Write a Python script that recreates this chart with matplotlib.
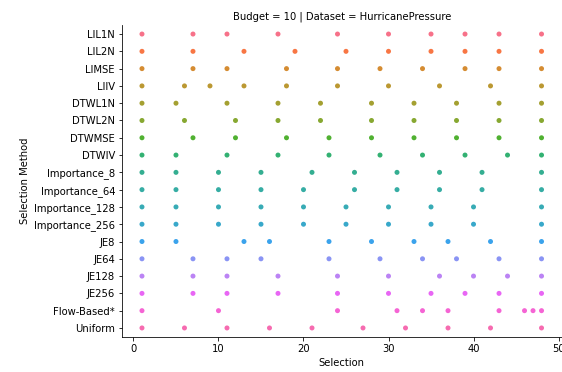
import pandas as pd
import numpy as np
import matplotlib
matplotlib.use('Agg')
import matplotlib.pyplot as plt
import seaborn as sns

methods = ["LIL1N", "LIL2N", "LIMSE", "LIIV", "DTWL1N", "DTWL2N", "DTWMSE", "DTWIV",
           "Importance_8", "Importance_64", "Importance_128", "Importance_256",
           "JE8", "JE64", "JE128", "JE256", "Flow-Based*", "Uniform"]

lil1n = [1, 7, 11, 17, 24, 30, 35, 39, 43, 48]
lil2n = [1, 7, 13, 19, 25, 30, 35, 39, 43, 48]
limse = [1, 7, 11, 18, 24, 29, 34, 39, 43, 48]
liiv = [1, 6, 9, 13, 18, 24, 30, 36, 42, 48]
dtwl1n = [1, 5, 11, 17, 22, 28, 33, 38, 43, 48]
dtwl2n = [1, 6, 12, 17, 22, 28, 33, 38, 43, 48]
dtwmse = [1, 7, 12, 18, 23, 28, 33, 38, 43, 48]
dtwiv = [1, 5, 11, 17, 23, 29, 34, 39, 44, 48]
imp_8 = [1, 5, 10, 15, 21, 26, 31, 36, 41, 48]
imp_64 = [1, 5, 10, 15, 20, 26, 31, 36, 41, 48]
imp_128 = [1, 5, 10, 15, 20, 25, 30, 35, 40, 48]
imp_256 = [1, 5, 10, 15, 20, 25, 30, 35, 40, 48]
je8 = [1, 5, 13, 16, 23, 28, 33, 37, 42, 48]
je64 = [1, 7, 11, 15, 23, 29, 34, 38, 43, 48]
je128 = [1, 7, 11, 17, 24, 30, 36, 40, 44, 48]
je256 = [1, 7, 11, 17, 24, 30, 35, 39, 43, 48]
flow_based = [1, 10, 24, 31, 34, 37, 43, 46, 47, 48]
uniform = [1, 6, 11, 16, 21, 27, 32, 37, 42, 48]

selections = [lil1n, lil2n, limse, liiv, dtwl1n, dtwl2n, dtwmse, dtwiv,
              imp_8, imp_64, imp_128, imp_256, je8, je64, je128, je256,
              flow_based, uniform]

rows = []
for m, sel in zip(methods, selections):
    for s in sel:
        rows.append({"Selection Method": m, "Selection": s})
df = pd.DataFrame(rows)

fig = plt.figure(figsize=(562 / 72, 372 / 72), dpi=72)
ax = fig.add_axes([122 / 562, 1 - 336.6 / 372, 439.5 / 562, 311.2 / 372])

sns.stripplot(data=df, x="Selection", y="Selection Method", hue="Selection Method",
              order=methods, hue_order=methods, palette=sns.color_palette("husl", 18),
              jitter=False, size=5, legend=False, ax=ax)

sns.despine(ax=ax)
ax.set_title("Budget = 10 | Dataset = HurricanePressure", fontsize=10)
ax.set_xticks([0, 10, 20, 30, 40, 50])

fig.savefig("out.png", dpi=72)
